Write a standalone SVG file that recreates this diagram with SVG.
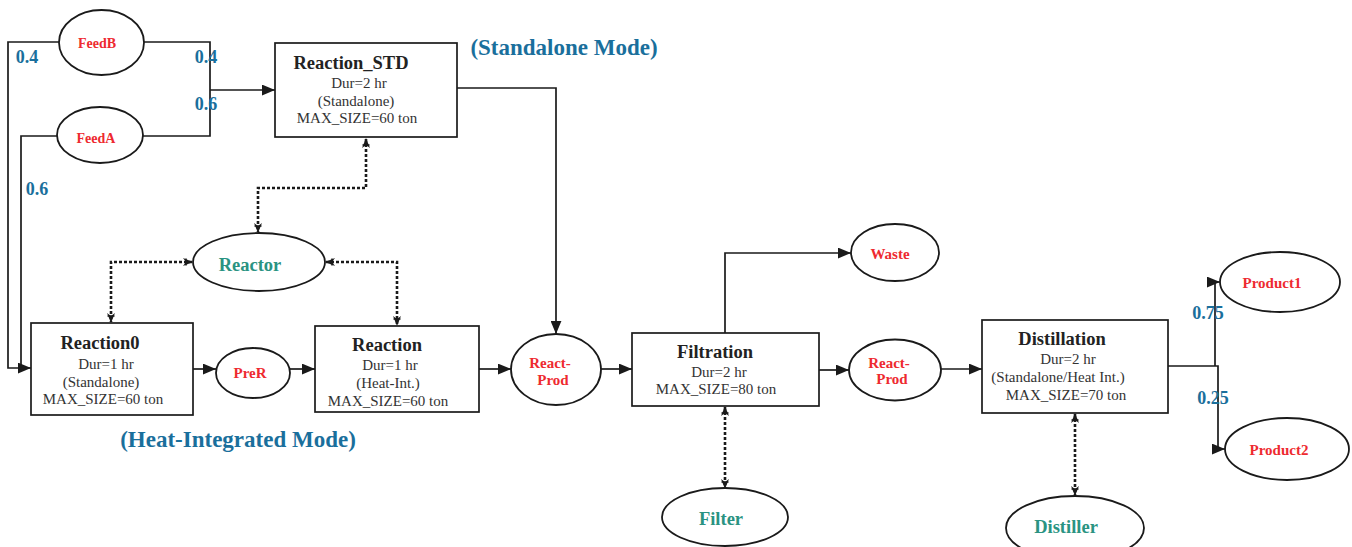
<svg xmlns="http://www.w3.org/2000/svg" width="1352" height="547" viewBox="0 0 1352 547">
<defs>
<marker id="arr" viewBox="0 0 12 10" refX="12" refY="5" markerWidth="13" markerHeight="11" markerUnits="userSpaceOnUse" orient="auto">
<path d="M0,0 L12,5 L0,10 Z" fill="#1a1a1a"/>
</marker>
<marker id="darr" viewBox="0 0 10 10" refX="9" refY="5" markerWidth="10" markerHeight="10" markerUnits="userSpaceOnUse" orient="auto-start-reverse">
<path d="M0,1 L3,5 L0,9 L10,5 Z" fill="#1a1a1a"/>
<path d="M3,1.5 L3,8.5" stroke="#1a1a1a" stroke-width="1.5"/>
</marker>
</defs>
<style>
.box{fill:#fff;stroke:#1a1a1a;stroke-width:1.7}
.ell{fill:#fff;stroke:#1a1a1a;stroke-width:1.8}
.ln{fill:none;stroke:#1a1a1a;stroke-width:1.7}
.dot{fill:none;stroke:#1a1a1a;stroke-width:2.6;stroke-dasharray:3,2}
.t{font-family:"Liberation Serif","Times New Roman",serif;text-anchor:middle}
.title{font-size:18.5px;font-weight:bold;fill:#222}
.body{font-size:15px;fill:#333}
.mat{font-size:15px;font-weight:bold;fill:#ee2a30}
.res{font-size:18.5px;font-weight:bold;fill:#2a9382}
.num{font-size:18px;font-weight:bold;fill:#1a6f9c}
.mode{font-size:23px;font-weight:bold;fill:#1a6f9c}
</style>
<rect width="1352" height="547" fill="#fff"/>

<g id="connectors">
<path class="ln" d="M59,42 H8 V368 H31" marker-end="url(#arr)"/>
<path class="ln" d="M57,136 H21 V368"/>
<path class="ln" d="M144,42 H210 V136 H143"/>
<path class="ln" d="M210,90 H275" marker-end="url(#arr)"/>
<path class="ln" d="M193,369 H216" marker-end="url(#arr)"/>
<path class="ln" d="M290,369 H315" marker-end="url(#arr)"/>
<path class="ln" d="M479,369 H511" marker-end="url(#arr)"/>
<path class="ln" d="M457,88 H556 V334" marker-end="url(#arr)"/>
<path class="ln" d="M601,369 H632" marker-end="url(#arr)"/>
<path class="ln" d="M725,333 V253 H851" marker-end="url(#arr)"/>
<path class="ln" d="M819,370 H849" marker-end="url(#arr)"/>
<path class="ln" d="M941,369 H982" marker-end="url(#arr)"/>
<path class="ln" d="M1168,366 H1218 V449 H1225" marker-end="url(#arr)"/>
<path class="ln" d="M1215,366 V282 H1220" marker-end="url(#arr)"/>
<path class="dot" d="M366,139 V188 H258 V232" marker-start="url(#darr)" marker-end="url(#darr)"/>
<path class="dot" d="M192,262 H111 V322" marker-start="url(#darr)" marker-end="url(#darr)"/>
<path class="dot" d="M326,262 H397 V325" marker-start="url(#darr)" marker-end="url(#darr)"/>
<path class="dot" d="M725,407 V488" marker-start="url(#darr)" marker-end="url(#darr)"/>
<path class="dot" d="M1075,414 V495" marker-start="url(#darr)" marker-end="url(#darr)"/>
</g>

<g id="labels">
<text class="t num" x="27" y="63">0.4</text>
<text class="t num" x="206" y="63">0.4</text>
<text class="t num" x="206" y="110">0.6</text>
<text class="t num" x="37" y="195">0.6</text>
<text class="t num" x="1208" y="319">0.75</text>
<text class="t num" x="1213" y="404">0.25</text>
<text class="t mode" x="564" y="55">(Standalone Mode)</text>
<text class="t mode" x="238" y="447">(Heat-Integrated Mode)</text>
</g>

<g id="FeedB">
<ellipse class="ell" cx="101.5" cy="42.5" rx="42.5" ry="32.5"/>
<text class="t mat" x="97" y="48" style="font-size:14px">FeedB</text>
</g>
<g id="FeedA">
<ellipse class="ell" cx="100" cy="135" rx="43" ry="28"/>
<text class="t mat" x="96" y="143" style="font-size:14px">FeedA</text>
</g>

<g id="Reaction_STD">
<rect class="box" x="275" y="43" width="182" height="94"/>
<text class="t title" x="351" y="69">Reaction_STD</text>
<text class="t body" x="359" y="88">Dur=2 hr</text>
<text class="t body" x="356" y="106">(Standalone)</text>
<text class="t body" x="357" y="123">MAX_SIZE=60 ton</text>
</g>

<g id="Reactor">
<ellipse class="ell" cx="259" cy="262" rx="66" ry="29"/>
<text class="t res" x="250" y="271">Reactor</text>
</g>

<g id="Reaction0">
<rect class="box" x="31" y="323" width="162" height="92"/>
<text class="t title" x="100" y="349">Reaction0</text>
<text class="t body" x="106" y="369">Dur=1 hr</text>
<text class="t body" x="101" y="387">(Standalone)</text>
<text class="t body" x="103" y="404">MAX_SIZE=60 ton</text>
</g>

<g id="PreR">
<ellipse class="ell" cx="253" cy="373" rx="37" ry="25"/>
<text class="t mat" x="250" y="378">PreR</text>
</g>

<g id="Reaction">
<rect class="box" x="315" y="326" width="164" height="86"/>
<text class="t title" x="387" y="351">Reaction</text>
<text class="t body" x="390" y="370">Dur=1 hr</text>
<text class="t body" x="388" y="388">(Heat-Int.)</text>
<text class="t body" x="388" y="406">MAX_SIZE=60 ton</text>
</g>

<g id="ReactProd1">
<ellipse class="ell" cx="556" cy="369.5" rx="45" ry="35.5"/>
<text class="t mat" x="550" y="368">React-</text>
<text class="t mat" x="553" y="385">Prod</text>
</g>

<g id="Filtration">
<rect class="box" x="632" y="333" width="187" height="73"/>
<text class="t title" x="715" y="358">Filtration</text>
<text class="t body" x="719" y="377">Dur=2 hr</text>
<text class="t body" x="716" y="394">MAX_SIZE=80 ton</text>
</g>

<g id="Waste">
<ellipse class="ell" cx="895" cy="252.5" rx="44" ry="28.5"/>
<text class="t mat" x="890" y="259">Waste</text>
</g>

<g id="ReactProd2">
<ellipse class="ell" cx="895" cy="370" rx="46" ry="30.5"/>
<text class="t mat" x="889" y="368">React-</text>
<text class="t mat" x="892" y="384">Prod</text>
</g>

<g id="Filter">
<ellipse class="ell" cx="725" cy="517" rx="63" ry="29"/>
<text class="t res" x="721" y="525">Filter</text>
</g>

<g id="Distillation">
<rect class="box" x="982" y="320" width="186" height="93"/>
<text class="t title" x="1062" y="345">Distillation</text>
<text class="t body" x="1068" y="364">Dur=2 hr</text>
<text class="t body" x="1058" y="382">(Standalone/Heat Int.)</text>
<text class="t body" x="1066" y="400">MAX_SIZE=70 ton</text>
</g>

<g id="Distiller">
<ellipse class="ell" cx="1075" cy="528" rx="69" ry="32"/>
<text class="t res" x="1066" y="533">Distiller</text>
</g>

<g id="Product1">
<ellipse class="ell" cx="1280" cy="282" rx="60" ry="30"/>
<text class="t mat" x="1272" y="288">Product1</text>
</g>

<g id="Product2">
<ellipse class="ell" cx="1287" cy="449" rx="62" ry="31"/>
<text class="t mat" x="1279" y="455">Product2</text>
</g>
</svg>
